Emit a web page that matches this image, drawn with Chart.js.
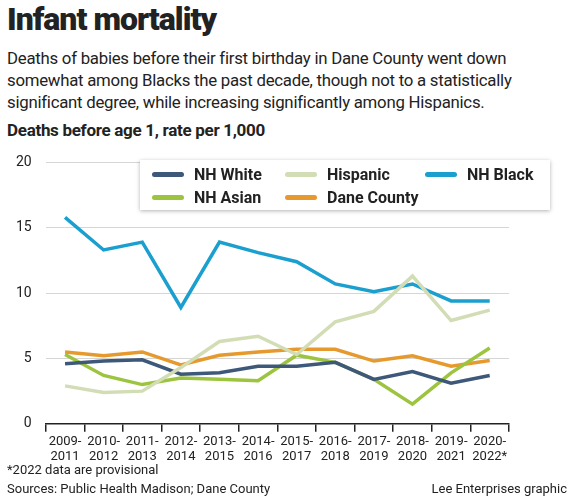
<!DOCTYPE html>
<html>
<head>
<meta charset="utf-8">
<script src="https://cdn.jsdelivr.net/npm/chart.js@4"></script>
<style>
  body { margin: 0; background: #fff; font-family: Roboto, sans-serif; color: #222; }
  #wrap { position: relative; width: 577px; height: 500px; }
  h1 { position: absolute; left: 7px; top: 0px; margin: 0; font-size: 32px; font-weight: 900; letter-spacing: -1px; }
  #sub { position: absolute; left: 7px; top: 47px; width: 570px; font-size: 16.8px; line-height: 22px; letter-spacing: -0.25px; }
  #ylab { position: absolute; left: 7px; top: 120px; font-size: 17px; font-weight: 700; letter-spacing: -0.3px; }
  #box { position: absolute; left: 0; top: 140px; width: 577px; height: 330px; }
  #legend { position: absolute; left: 140px; top: 160px; width: 410px; height: 50px; background: #fff;
    box-shadow: 0 1px 4px rgba(0,0,0,0.3); font-size: 16px; font-weight: 700; }
  .it { position: absolute; display: flex; align-items: center; }
  .sw { width: 32px; height: 5px; border-radius: 3px; margin-right: 10px; }
  .foot { position: absolute; font-size: 13px; }
</style>
</head>
<body>
<div id="wrap">
  <h1>Infant mortality</h1>
  <div id="sub">Deaths of babies before their first birthday in Dane County went down somewhat among Blacks the past decade, though not to a statistically significant degree, while increasing significantly among Hispanics.</div>
  <div id="ylab">Deaths before age 1, rate per 1,000</div>
  <div id="box"><canvas id="myChart" width="577" height="330"></canvas></div>
  <div id="legend"></div>
  <div class="foot" style="left:7px;top:462px">*2022 data are provisional</div>
  <div class="foot" style="left:7px;top:481px">Sources: Public Health Madison; Dane County</div>
  <div class="foot" style="right:10px;top:481px">Lee Enterprises graphic</div>
</div>
<script>
'use strict';

var periods = [["2009-","2011"],["2010-","2012"],["2011-","2013"],["2012-","2014"],["2013-","2015"],["2014-","2016"],
               ["2015-","2017"],["2016-","2018"],["2017-","2019"],["2018-","2020"],["2019-","2021"],["2020-","2022*"]];
var nhWhite  = [4.6, 4.8, 4.9, 3.8, 3.9, 4.4, 4.4, 4.7, 3.4, 4.0, 3.1, 3.7];
var hispanic = [2.9, 2.4, 2.5, 4.3, 6.3, 6.7, 5.3, 7.8, 8.6, 11.3, 7.9, 8.7];
var nhBlack  = [15.8, 13.3, 13.9, 8.9, 13.9, 13.1, 12.4, 10.7, 10.1, 10.7, 9.4, 9.4];
var nhAsian  = [5.3, 3.7, 3.0, 3.5, 3.4, 3.3, 5.25, 4.7, 3.4, 1.5, 3.9, 5.8];
var dane     = [5.5, 5.2, 5.5, 4.5, 5.25, 5.5, 5.7, 5.7, 4.8, 5.2, 4.4, 4.85];
var yTicks   = [0, 5, 10, 15, 20];

var series = [
  { label: 'NH White', data: nhWhite, color: '#3d5878', x: 12, y: 5 },
  { label: 'Hispanic', data: hispanic, color: '#d2ddb5', x: 145, y: 5 },
  { label: 'NH Black', data: nhBlack, color: '#1a9fcf', x: 285, y: 5 },
  { label: 'NH Asian', data: nhAsian, color: '#9cc43f', x: 12, y: 28 },
  { label: 'Dane County', data: dane, color: '#e69a2e', x: 145, y: 28 }
];

// hand-made legend sitting inside the plot
var leg = document.getElementById('legend');
series.forEach(function (s) {
  var d = document.createElement('div');
  d.className = 'it';
  d.style.left = s.x + 'px';
  d.style.top = s.y + 'px';
  d.innerHTML = '<span class="sw" style="background:' + s.color + '"></span>' + s.label;
  leg.appendChild(d);
});

// draw order: lighter lines below
var order = [1, 0, 3, 4, 2];

var ctx = document.getElementById('myChart').getContext('2d');
var myChart = new Chart(ctx, {
  type: 'line',
  data: {
    labels: periods,
    datasets: order.map(function (i) {
      var s = series[i];
      return { label: s.label, data: s.data, borderColor: s.color, borderWidth: 3.5,
               pointRadius: 0, tension: 0, fill: false };
    })
  },
  options: {
    responsive: false,
    animation: false,
    layout: { padding: { left: 2, right: 68, top: 3, bottom: 3 } },
    plugins: { legend: { display: false }, tooltip: { enabled: false } },
    scales: {
      x: {
        offset: true,
        grid: { offset: true, drawOnChartArea: false, drawTicks: true, tickLength: 8, color: '#222', lineWidth: 1.5 },
        border: { color: '#222', width: 1.5 },
        ticks: { color: '#222', font: { family: 'Roboto', size: 13 }, maxRotation: 0, autoSkip: false, padding: 2 }
      },
      y: {
        min: 0, max: 20,
        afterBuildTicks: function (axis) { axis.ticks = yTicks.map(function (v) { return { value: v }; }); },
        grid: { color: '#d6d6d6', drawTicks: false },
        border: { display: false },
        ticks: { color: '#222', font: { family: 'Roboto', size: 14 }, padding: 14 }
      }
    }
  }
});
</script>
</body>
</html>
